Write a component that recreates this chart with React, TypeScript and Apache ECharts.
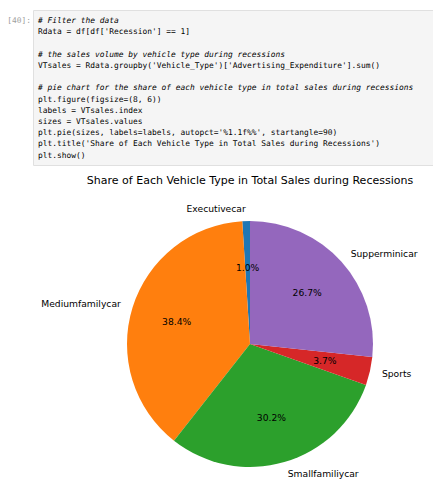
import React, { useEffect, useRef } from "react";
import * as echarts from "echarts";

const categories = ["Executivecar", "Mediumfamilycar", "Smallfamiliycar", "Sports", "Supperminicar"];
const shares = [1.0, 38.4, 30.2, 3.7, 26.7];
const colors = ["#1f77b4", "#ff7f0e", "#2ca02c", "#d62728", "#9467bd"];
const chartTitle = "Share of Each Vehicle Type in Total Sales during Recessions";

// code cell lines: [styleKey, text] token lists
type Tok = [string, string];
const codeLines: Tok[][] = [
  [["c", "# Filter the data"]],
  [["v", "Rdata "], ["o", "="], ["v", " df[df["], ["s", "'Recession'"], ["v", "] "], ["o", "=="], ["v", " "], ["n", "1"], ["v", "]"]],
  [],
  [["c", "# the sales volume by vehicle type during recessions"]],
  [["v", "VTsales "], ["o", "="], ["v", " Rdata.groupby("], ["s", "'Vehicle_Type'"], ["v", ")["], ["s", "'Advertising_Expenditure'"], ["v", "].sum()"]],
  [],
  [["c", "# pie chart for the share of each vehicle type in total sales during recessions"]],
  [["v", "plt.figure(figsize"], ["o", "="], ["v", "("], ["n", "8"], ["v", ", "], ["n", "6"], ["v", "))"]],
  [["v", "labels "], ["o", "="], ["v", " VTsales.index"]],
  [["v", "sizes "], ["o", "="], ["v", " VTsales.values"]],
  [["v", "plt.pie(sizes, labels"], ["o", "="], ["v", "labels, autopct"], ["o", "="], ["s", "'%1.1f%%'"], ["v", ", startangle"], ["o", "="], ["n", "90"], ["v", ")"]],
  [["v", "plt.title("], ["s", "'Share of Each Vehicle Type in Total Sales during Recessions'"], ["v", ")"]],
  [["v", "plt.show()"]],
];

const MONO = "'DejaVu Sans Mono', 'Liberation Mono', monospace";
const SANS = "'DejaVu Sans', sans-serif";

export default function App() {
  const ref = useRef<HTMLDivElement>(null);
  useEffect(() => {
    if (!ref.current) return;
    const chart = echarts.init(ref.current, null, { renderer: "svg" });
    const codeFont = 7.9;
    const lineH = 11.2;
    const rich: any = {
      c: { fontFamily: MONO, fontSize: codeFont, fontStyle: "italic", color: "#4a8585" },
      v: { fontFamily: MONO, fontSize: codeFont, color: "#333333" },
      o: { fontFamily: MONO, fontSize: codeFont, color: "#aa22ff" },
      s: { fontFamily: MONO, fontSize: codeFont, color: "#ba2121" },
      n: { fontFamily: MONO, fontSize: codeFont, color: "#008000" },
    };
    const lineGraphics: any[] = [];
    codeLines.forEach((toks, i) => {
      if (!toks.length) return;
      lineGraphics.push({
        type: "text",
        x: 38,
        y: 20.7 + i * lineH,
        style: {
          text: toks.map(([k, t]) => `{${k}|${t}}`).join(""),
          rich,
          verticalAlign: "middle",
          align: "left",
        },
        silent: true,
      });
    });

    const cx = 250;
    const cy = 344;
    const R = 123;
    const data = categories.map((name, i) => ({ name, value: shares[i], itemStyle: { color: colors[i] } }));

    chart.setOption({
      animation: false,
      title: {
        text: chartTitle,
        left: cx,
        top: 175,
        textAlign: "center",
        padding: 0,
        textStyle: { fontFamily: SANS, fontSize: 11, fontWeight: "normal", color: "#000" },
      },
      graphic: [
        {
          type: "rect",
          shape: { x: 33.5, y: 10.5, width: 420, height: 155 },
          style: { fill: "#f5f5f5", stroke: "#e0e0e0", lineWidth: 1 },
          silent: true,
        },
        {
          type: "text",
          x: 31,
          y: 20.7,
          style: { text: "[40]:", fontFamily: MONO, fontSize: codeFont, fill: "#9e9e9e", align: "right", verticalAlign: "middle" },
          silent: true,
        },
        ...lineGraphics,
      ],
      series: [
        {
          type: "pie",
          center: [cx, cy],
          radius: [0, R],
          startAngle: 90,
          clockwise: false,
          avoidLabelOverlap: false,
          silent: true,
          itemStyle: { borderWidth: 0 },
          label: {
            show: true,
            position: "outside",
            formatter: "{b}",
            fontFamily: SANS,
            fontSize: 9.2,
            color: "#000",
            distanceToLabelLine: 0,
          },
          labelLine: { show: false, length: R * 0.1, length2: 0 },
          emphasis: { disabled: true },
          data,
        },
        {
          type: "pie",
          center: [cx, cy],
          radius: [0, R * 1.2],
          startAngle: 90,
          clockwise: false,
          avoidLabelOverlap: false,
          silent: true,
          z: 3,
          itemStyle: { color: "rgba(0,0,0,0)", borderWidth: 0 },
          label: {
            show: true,
            position: "inside",
            formatter: (p: any) => `${Number(p.value).toFixed(1)}%`,
            fontFamily: SANS,
            fontSize: 9.2,
            color: "#000",
          },
          labelLine: { show: false },
          emphasis: { disabled: true },
          data: categories.map((name, i) => ({ name, value: shares[i] })),
        },
      ],
    });
    return () => chart.dispose();
  }, []);
  return <div ref={ref} style={{ position: "fixed", left: 0, top: 0, width: 433, height: 492, background: "#fff" }} />;
}
